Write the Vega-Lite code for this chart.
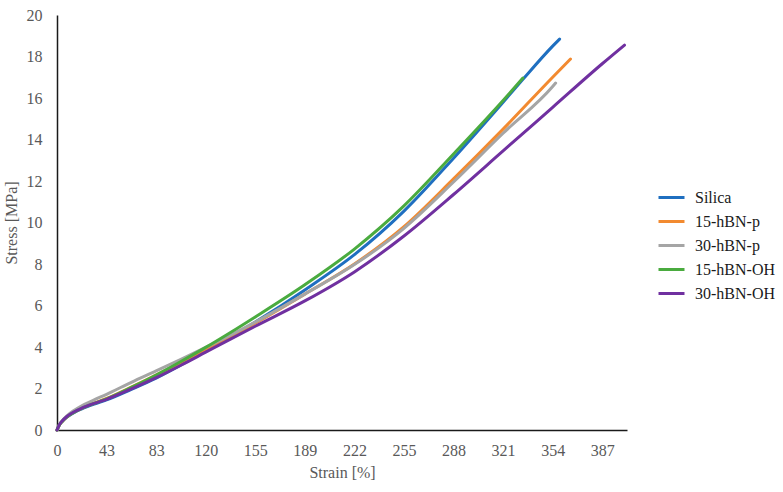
{
  "$schema": "https://vega.github.io/schema/vega-lite/v6.json",
  "autosize": {"type": "none"},
  "padding": {"left": 57, "top": 15, "right": 156, "bottom": 62},
  "width": 570,
  "height": 415,
  "background": "white",
  "config": {
    "view": {"stroke": null},
    "font": "'Liberation Serif', 'DejaVu Serif', serif"
  },
  "data": {
    "values": [
      {"series": "Silica", "pos": 0, "stress": 0},
      {"series": "Silica", "pos": 0.05, "stress": 0.25},
      {"series": "Silica", "pos": 0.1, "stress": 0.4},
      {"series": "Silica", "pos": 0.2, "stress": 0.62},
      {"series": "Silica", "pos": 0.35, "stress": 0.85},
      {"series": "Silica", "pos": 0.5, "stress": 1.02},
      {"series": "Silica", "pos": 0.75, "stress": 1.25},
      {"series": "Silica", "pos": 1, "stress": 1.45},
      {"series": "Silica", "pos": 1.5, "stress": 1.96},
      {"series": "Silica", "pos": 2, "stress": 2.5},
      {"series": "Silica", "pos": 2.5, "stress": 3.13},
      {"series": "Silica", "pos": 3, "stress": 3.8},
      {"series": "Silica", "pos": 3.5, "stress": 4.48},
      {"series": "Silica", "pos": 4, "stress": 5.2},
      {"series": "Silica", "pos": 5, "stress": 6.75},
      {"series": "Silica", "pos": 6, "stress": 8.45},
      {"series": "Silica", "pos": 7, "stress": 10.55},
      {"series": "Silica", "pos": 8, "stress": 13.1},
      {"series": "Silica", "pos": 9, "stress": 15.8},
      {"series": "Silica", "pos": 9.4, "stress": 16.9},
      {"series": "Silica", "pos": 10, "stress": 18.5},
      {"series": "Silica", "pos": 10.14, "stress": 18.84},

      {"series": "15-hBN-p", "pos": 0, "stress": 0},
      {"series": "15-hBN-p", "pos": 0.05, "stress": 0.25},
      {"series": "15-hBN-p", "pos": 0.1, "stress": 0.4},
      {"series": "15-hBN-p", "pos": 0.2, "stress": 0.63},
      {"series": "15-hBN-p", "pos": 0.35, "stress": 0.87},
      {"series": "15-hBN-p", "pos": 0.5, "stress": 1.05},
      {"series": "15-hBN-p", "pos": 0.75, "stress": 1.3},
      {"series": "15-hBN-p", "pos": 1, "stress": 1.52},
      {"series": "15-hBN-p", "pos": 1.5, "stress": 2.07},
      {"series": "15-hBN-p", "pos": 2, "stress": 2.65},
      {"series": "15-hBN-p", "pos": 2.5, "stress": 3.24},
      {"series": "15-hBN-p", "pos": 3, "stress": 3.85},
      {"series": "15-hBN-p", "pos": 3.5, "stress": 4.48},
      {"series": "15-hBN-p", "pos": 4, "stress": 5.15},
      {"series": "15-hBN-p", "pos": 5, "stress": 6.55},
      {"series": "15-hBN-p", "pos": 6, "stress": 8.0},
      {"series": "15-hBN-p", "pos": 7, "stress": 9.8},
      {"series": "15-hBN-p", "pos": 8, "stress": 12.1},
      {"series": "15-hBN-p", "pos": 9, "stress": 14.5},
      {"series": "15-hBN-p", "pos": 10, "stress": 17.0},
      {"series": "15-hBN-p", "pos": 10.36, "stress": 17.88},

      {"series": "30-hBN-p", "pos": 0, "stress": 0},
      {"series": "30-hBN-p", "pos": 0.05, "stress": 0.27},
      {"series": "30-hBN-p", "pos": 0.1, "stress": 0.43},
      {"series": "30-hBN-p", "pos": 0.2, "stress": 0.68},
      {"series": "30-hBN-p", "pos": 0.35, "stress": 0.95},
      {"series": "30-hBN-p", "pos": 0.5, "stress": 1.17},
      {"series": "30-hBN-p", "pos": 0.75, "stress": 1.45},
      {"series": "30-hBN-p", "pos": 1, "stress": 1.72},
      {"series": "30-hBN-p", "pos": 1.5, "stress": 2.3},
      {"series": "30-hBN-p", "pos": 2, "stress": 2.85},
      {"series": "30-hBN-p", "pos": 2.5, "stress": 3.41},
      {"series": "30-hBN-p", "pos": 3, "stress": 3.98},
      {"series": "30-hBN-p", "pos": 3.5, "stress": 4.57},
      {"series": "30-hBN-p", "pos": 4, "stress": 5.2},
      {"series": "30-hBN-p", "pos": 5, "stress": 6.55},
      {"series": "30-hBN-p", "pos": 6, "stress": 7.97},
      {"series": "30-hBN-p", "pos": 7, "stress": 9.72},
      {"series": "30-hBN-p", "pos": 8, "stress": 11.95},
      {"series": "30-hBN-p", "pos": 9, "stress": 14.3},
      {"series": "30-hBN-p", "pos": 10, "stress": 16.55},
      {"series": "30-hBN-p", "pos": 10.06, "stress": 16.72},

      {"series": "15-hBN-OH", "pos": 0, "stress": 0},
      {"series": "15-hBN-OH", "pos": 0.05, "stress": 0.25},
      {"series": "15-hBN-OH", "pos": 0.1, "stress": 0.4},
      {"series": "15-hBN-OH", "pos": 0.2, "stress": 0.63},
      {"series": "15-hBN-OH", "pos": 0.35, "stress": 0.86},
      {"series": "15-hBN-OH", "pos": 0.5, "stress": 1.04},
      {"series": "15-hBN-OH", "pos": 0.75, "stress": 1.28},
      {"series": "15-hBN-OH", "pos": 1, "stress": 1.5},
      {"series": "15-hBN-OH", "pos": 1.5, "stress": 2.05},
      {"series": "15-hBN-OH", "pos": 2, "stress": 2.65},
      {"series": "15-hBN-OH", "pos": 2.5, "stress": 3.3},
      {"series": "15-hBN-OH", "pos": 3, "stress": 3.98},
      {"series": "15-hBN-OH", "pos": 3.5, "stress": 4.7},
      {"series": "15-hBN-OH", "pos": 4, "stress": 5.45},
      {"series": "15-hBN-OH", "pos": 5, "stress": 7.0},
      {"series": "15-hBN-OH", "pos": 6, "stress": 8.72},
      {"series": "15-hBN-OH", "pos": 7, "stress": 10.8},
      {"series": "15-hBN-OH", "pos": 8, "stress": 13.3},
      {"series": "15-hBN-OH", "pos": 9, "stress": 15.88},
      {"series": "15-hBN-OH", "pos": 9.4, "stress": 16.96},

      {"series": "30-hBN-OH", "pos": 0, "stress": 0},
      {"series": "30-hBN-OH", "pos": 0.05, "stress": 0.27},
      {"series": "30-hBN-OH", "pos": 0.1, "stress": 0.42},
      {"series": "30-hBN-OH", "pos": 0.2, "stress": 0.65},
      {"series": "30-hBN-OH", "pos": 0.35, "stress": 0.88},
      {"series": "30-hBN-OH", "pos": 0.5, "stress": 1.05},
      {"series": "30-hBN-OH", "pos": 0.75, "stress": 1.28},
      {"series": "30-hBN-OH", "pos": 1, "stress": 1.48},
      {"series": "30-hBN-OH", "pos": 1.5, "stress": 1.98},
      {"series": "30-hBN-OH", "pos": 2, "stress": 2.52},
      {"series": "30-hBN-OH", "pos": 2.5, "stress": 3.12},
      {"series": "30-hBN-OH", "pos": 3, "stress": 3.75},
      {"series": "30-hBN-OH", "pos": 3.5, "stress": 4.38},
      {"series": "30-hBN-OH", "pos": 4, "stress": 5.0},
      {"series": "30-hBN-OH", "pos": 5, "stress": 6.22},
      {"series": "30-hBN-OH", "pos": 6, "stress": 7.62},
      {"series": "30-hBN-OH", "pos": 7, "stress": 9.35},
      {"series": "30-hBN-OH", "pos": 8, "stress": 11.35},
      {"series": "30-hBN-OH", "pos": 9, "stress": 13.45},
      {"series": "30-hBN-OH", "pos": 10, "stress": 15.55},
      {"series": "30-hBN-OH", "pos": 11, "stress": 17.65},
      {"series": "30-hBN-OH", "pos": 11.45, "stress": 18.55}
    ]
  },
  "mark": {"type": "line", "strokeWidth": 3, "interpolate": "monotone", "strokeCap": "round"},
  "encoding": {
    "x": {
      "field": "pos",
      "type": "quantitative",
      "scale": {"domain": [0, 11.5], "nice": false, "zero": false},
      "axis": {
        "title": "Strain [%]",
        "values": [0, 1, 2, 3, 4, 5, 6, 7, 8, 9, 10, 11],
        "labelExpr": "['0','43','83','120','155','189','222','255','288','321','354','387'][datum.value]",
        "grid": false,
        "ticks": false,
        "domainColor": "#1a1a1a",
        "domainWidth": 1.5,
        "labelColor": "#595959",
        "labelFont": "'Liberation Serif', 'DejaVu Serif', serif",
        "labelFontSize": 16,
        "labelPadding": 12,
        "labelFlush": false,
        "titleColor": "#595959",
        "titleFont": "'Liberation Serif', 'DejaVu Serif', serif",
        "titleFontSize": 16,
        "titleFontWeight": "normal",
        "titlePadding": 6
      }
    },
    "y": {
      "field": "stress",
      "type": "quantitative",
      "scale": {"domain": [0, 20], "nice": false},
      "axis": {
        "title": "Stress [MPa]",
        "values": [0, 2, 4, 6, 8, 10, 12, 14, 16, 18, 20],
        "grid": false,
        "ticks": false,
        "domainColor": "#1a1a1a",
        "domainWidth": 1.5,
        "labelColor": "#595959",
        "labelFont": "'Liberation Serif', 'DejaVu Serif', serif",
        "labelFontSize": 16,
        "labelPadding": 15,
        "titleColor": "#595959",
        "titleFont": "'Liberation Serif', 'DejaVu Serif', serif",
        "titleFontSize": 16,
        "titleFontWeight": "normal",
        "titlePadding": 7
      }
    },
    "color": {
      "field": "series",
      "type": "nominal",
      "scale": {
        "domain": ["Silica", "15-hBN-p", "30-hBN-p", "15-hBN-OH", "30-hBN-OH"],
        "range": ["#1f6fc0", "#f28a30", "#a5a5a5", "#4aab3f", "#7030a0"]
      },
      "legend": {
        "title": null,
        "orient": "none",
        "legendX": 600,
        "legendY": 168,
        "padding": 0,
        "symbolType": "stroke",
        "symbolSize": 676,
        "symbolStrokeWidth": 3,
        "labelFont": "'Liberation Serif', 'DejaVu Serif', serif",
        "labelFontSize": 16,
        "labelColor": "#1a1a1a",
        "labelOffset": 9,
        "rowPadding": 1
      }
    }
  }
}
